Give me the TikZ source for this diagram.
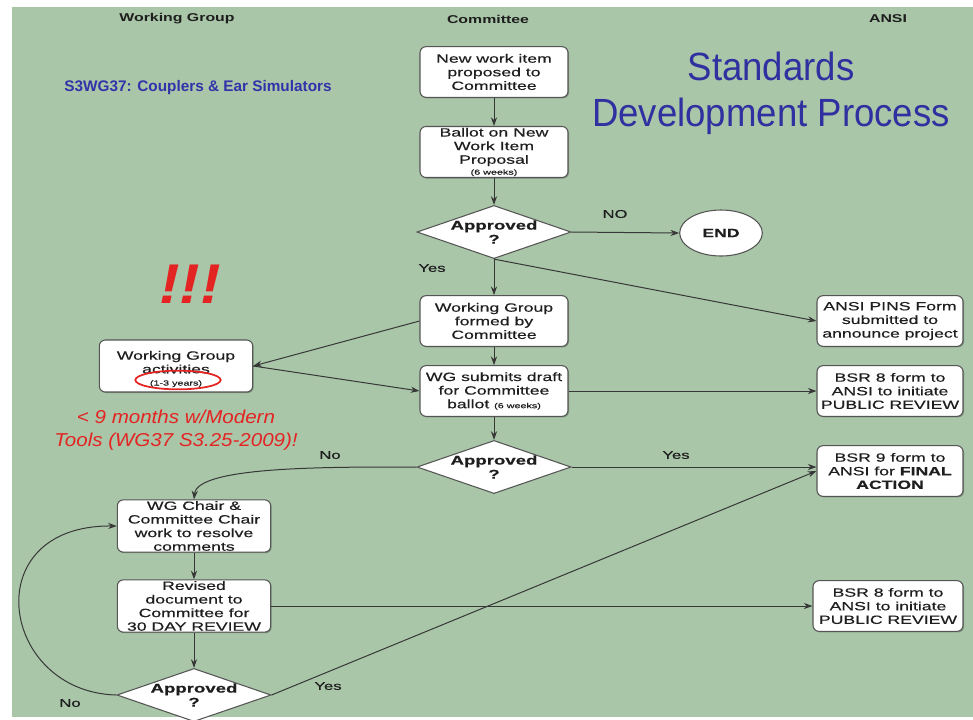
\documentclass[tikz,border=0pt]{standalone}
\usepackage{fontspec}
\setmainfont{Liberation Sans}
\newfontfamily\boxfont[FakeStretch=1.47,FakeBold=0.4]{Liberation Sans}
\newfontfamily\headfont[FakeStretch=1.4]{Liberation Sans}
\newfontfamily\bluefont[FakeStretch=1.0]{Liberation Sans}
\newfontfamily\titlefont[FakeStretch=0.93]{Liberation Sans}
\newfontfamily\redfont[FakeStretch=1.1]{Liberation Sans}
\usetikzlibrary{shapes.geometric,arrows.meta,shadows}
\definecolor{bggreen}{RGB}{169,198,168}
\definecolor{titleblue}{RGB}{48,48,160}
\definecolor{wgblue}{RGB}{50,50,170}
\definecolor{alertred}{RGB}{228,35,35}
\definecolor{linegray}{RGB}{55,55,55}
\definecolor{boxborder}{RGB}{85,85,85}
\definecolor{boxtext}{RGB}{30,30,30}
\tikzset{
  procbox/.style={draw=boxborder, line width=0.8pt, fill=white, rounded corners=4.5pt,
    minimum width=111pt, minimum height=38pt, align=center, text=boxtext,
    font=\boxfont\fontsize{9}{10.2}\selectfont, inner sep=1pt,
    drop shadow={shadow xshift=0.8pt, shadow yshift=-0.8pt, fill=black, opacity=0.25}},
  boxlabel/.style={align=center, text=boxtext, font=\boxfont\fontsize{9}{10.2}\selectfont, inner sep=0pt},
  decision/.style={diamond, draw=boxborder, line width=0.8pt, fill=white, aspect=2.9,
    minimum width=110pt, minimum height=38pt, inner sep=0pt, align=center, text=boxtext,
    font=\boxfont\bfseries\fontsize{9.5}{10.5}\selectfont},
  endbox/.style={ellipse, draw=boxborder, line width=0.8pt, fill=white, minimum width=62pt,
    minimum height=34.5pt, inner sep=0pt, text=boxtext, font=\boxfont\bfseries\fontsize{9}{10}\selectfont},
  conn/.style={draw=linegray, line width=0.75pt, -{Stealth[length=6.5pt,width=4.6pt]}},
  lbl/.style={text=boxtext, font=\boxfont\fontsize{8.5}{10}\selectfont, inner sep=0pt},
  head/.style={text=boxtext, font=\headfont\bfseries\fontsize{8.5}{10}\selectfont, inner sep=0pt},
}
\newcommand{\tinytxt}[1]{{\fontsize{5.5}{6}\selectfont #1}}
\begin{document}
\begin{tikzpicture}[x=0.75pt,y=-0.75pt]
\fill[white] (0,0) rectangle (973,719);
\fill[bggreen] (12,7) rectangle (973,717);
\useasboundingbox (0,0) rectangle (973,719);

% headers
\node[head] (hwg) at (177,19) {Working Group};
\node[head] (hcom) at (488,19) {Committee};
\node[head] (hansi) at (888,19) {ANSI};

\node[text=wgblue, font=\bluefont\bfseries\fontsize{11.5}{13}\selectfont, inner sep=0pt] (wgname) at (198,88) {S3WG37: Couplers \& Ear Simulators};
\node[text=titleblue, font=\titlefont\fontsize{29.5}{34.5}\selectfont, align=center, inner sep=0pt] (title) at (771,93) {Standards\\Development Process};

\node[text=alertred, font=\redfont\bfseries\itshape\fontsize{42}{42}\selectfont, inner sep=0pt] (bang) at (190,284) {!!!};
\node[text=alertred, font=\redfont\itshape\fontsize{14}{17.2}\selectfont, align=center, inner sep=0pt] (modern) at (176,430) {< 9 months w/Modern\\Tools (WG37 S3.25-2009)!};

% committee column
\node[procbox] (b1) at (494,72) {New work item\\proposed to\\Committee};
\node[procbox] (b2) at (494,152) {Ballot on New\\Work Item\\Proposal\\[-2pt]\tinytxt{(6 weeks)}};
\node[decision] (d1) at (494,232) {Approved\\?};
\node[endbox] (endn) at (721,233) {END};
\node[procbox] (b3) at (494,321) {Working Group\\formed by\\Committee};
\node[procbox] (b4) at (494,391) {WG submits draft\\for Committee\\ballot \tinytxt{(6 weeks)}};
\node[decision] (d2) at (494,467) {Approved\\?};

% working group column
\node[procbox, minimum width=115pt, minimum height=39pt] (wga) at (176,366) {};
\node[boxlabel] (wgatext) at (176,369) {Working Group\\activities\\[-1pt]\tinytxt{(1-3 years)}};
\draw[alertred, line width=1.3pt] (178,380) ellipse [x radius=32pt, y radius=7pt];
\node[procbox, minimum width=115pt, minimum height=39pt] (wgc) at (194,526) {WG Chair \&\\Committee Chair\\work to resolve\\comments};
\node[procbox, minimum width=115pt, minimum height=39pt] (rev) at (194,606) {Revised\\document to\\Committee for\\30 DAY REVIEW};
\node[decision, minimum height=37pt] (d3) at (194,695) {Approved\\?};

% ANSI column
\node[procbox, minimum width=109.5pt] (pins) at (890,321) {ANSI PINS Form\\submitted to\\announce project};
\node[procbox, minimum width=109.5pt] (bsr8a) at (890,391) {BSR 8 form to\\ANSI to initiate\\PUBLIC REVIEW};
\node[procbox, minimum width=109.5pt] (bsr9) at (890,471) {BSR 9 form to\\ANSI for \textbf{FINAL}\\\textbf{ACTION}};
\node[procbox, minimum width=112.5pt] (bsr8b) at (888,606) {BSR 8 form to\\ANSI to initiate\\PUBLIC REVIEW};

% connectors
\draw[conn] (b1) -- (b2);
\draw[conn] (b2) -- (d1);
\draw[conn] (d1.east) -- (endn.west);
\draw[conn] (d1.south) -- (b3.north);
\draw[conn] (d1.south) -- (pins.west);
\draw[conn] (b3.west) -- (wga.east);
\draw[conn] (wga.east) -- (b4.west);
\draw[conn] (b3) -- (b4);
\draw[conn] (b4.east) -- (bsr8a.west);
\draw[conn] (b4) -- (d2);
\draw[conn] (d2.east) -- (d2.east -| bsr9.west);
\draw[conn] (d2.west) .. controls (330,467) and (197,466) .. (wgc.north);
\draw[conn] (wgc) -- (rev);
\draw[conn] (rev.east) -- (bsr8b.west);
\draw[conn] (rev) -- (d3);
\draw[conn] (d3.west) .. controls (0,692) and (-25,525) .. (wgc.west);
\draw[conn] (d3.east) -- (bsr9.west);

% labels
\node[lbl] (lno1) at (615,214) {NO};
\node[lbl] (lyes1) at (432,268) {Yes};
\node[lbl] (lyes2) at (676,455) {Yes};
\node[lbl] (lno2) at (330,455) {No};
\node[lbl] (lno3) at (70,703) {No};
\node[lbl] (lyes3) at (328,686) {Yes};
\end{tikzpicture}
\end{document}
